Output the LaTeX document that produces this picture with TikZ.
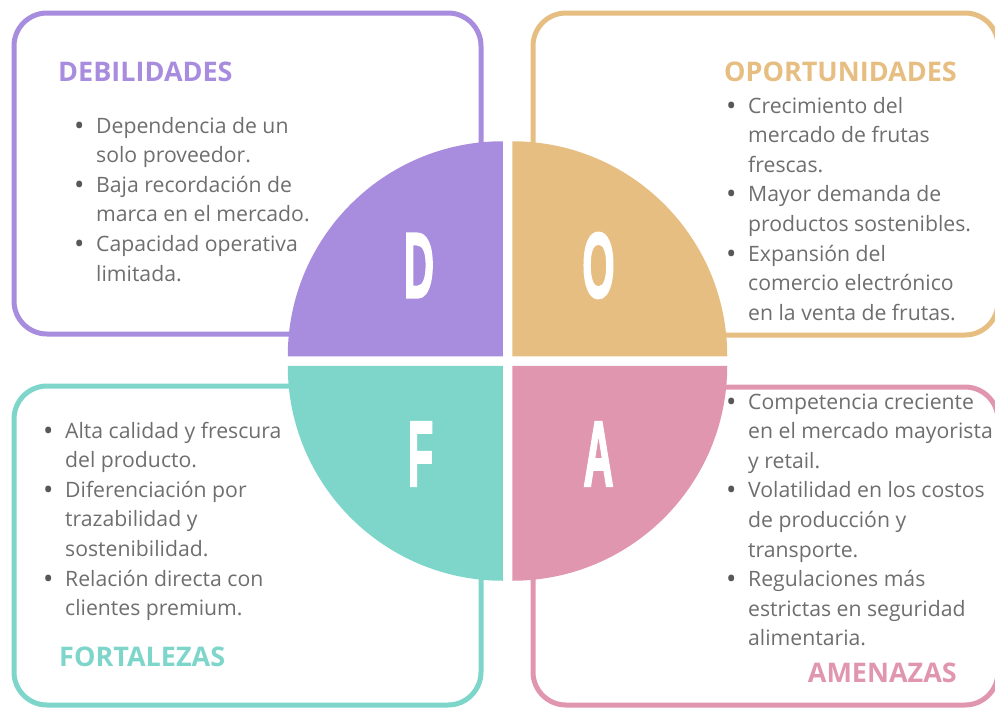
\documentclass[tikz,border=0pt]{standalone}
\usepackage{fontspec}
\setmainfont{Open Sans}
\newfontfamily\letrafont{Liberation Sans}[FakeBold=3]
\usepackage{xcolor}
\usetikzlibrary{positioning}

\definecolor{morado}{HTML}{A88CDE}
\definecolor{naranja}{HTML}{E7BE82}
\definecolor{turquesa}{HTML}{7ED6CB}
\definecolor{rosa}{HTML}{E096AF}
\definecolor{gris}{HTML}{6E6E6E}

\newcommand{\letra}[1]{\scalebox{0.45}[1]{#1}}
\newcommand{\vin}{\textcolor{gris!80!black}{\raisebox{-0.1em}{\scalebox{1.3}{\textbullet}}}}

\begin{document}
\begin{tikzpicture}[x=1pt,y=-1pt]
          \useasboundingbox (0,0) rectangle (995,707);

          \tikzstyle{caja}=[line width=5pt, rounded corners=33pt]
          \tikzstyle{titulo}=[font=\fontsize{27}{30}\selectfont\bfseries, inner sep=0pt]
          \tikzstyle{lista}=[font=\fontsize{21.2}{29.6}\selectfont, text=gris, inner sep=0pt, anchor=base west]
          \tikzstyle{letra}=[text=white, font=\letrafont\bfseries\fontsize{92}{92}\selectfont, inner sep=0pt]

          % cajas de los cuatro cuadrantes
          \draw[caja, draw=morado] (14,13) rectangle (481,334);
          \draw[caja, draw=naranja] (533,13) rectangle (998,335);
          \draw[caja, draw=turquesa] (14,386) rectangle (481,705);
          \draw[caja, draw=rosa] (533,387) rectangle (998,705);

          % circulo partido en cuartos
          \fill[morado] (502.75,356.25) -- ++(-215,0) arc[start angle=180, end angle=270, radius=215] -- cycle;
          \fill[naranja] (512.25,356.25) -- ++(0,-215) arc[start angle=270, end angle=360, radius=215] -- cycle;
          \fill[turquesa] (502.75,365.75) -- ++(-215,0) arc[start angle=180, end angle=90, radius=215] -- cycle;
          \fill[rosa] (512.25,365.75) -- ++(215,0) arc[start angle=0, end angle=90, radius=215] -- cycle;

          \node[letra] (LD) at (419,265.5) {\letra{D}};
          \node[letra] (LO) at (598.5,265.5) {\letra{O}};
          \node[letra] (LF) at (420.5,454) {\letra{F}};
          \node[letra] (LA) at (598.5,454) {\letra{A}};

          % titulos
          \node[titulo, text=morado, anchor=base west] (TD) at (58,81) {DEBILIDADES};
          \node[titulo, text=naranja, anchor=base east] (TO) at (957,81) {OPORTUNIDADES};
          \node[titulo, text=turquesa, anchor=base west] (TF) at (59,666) {FORTALEZAS};
          \node[titulo, text=rosa, anchor=base east] (TA) at (957,682) {AMENAZAS};

          % listas
          \node[lista] (BD) at (74,133) {\begin{tabular}[t]{@{}p{22pt}@{}l@{}}
            \vin & Dependencia de un\\
                 & solo proveedor.\\
            \vin & Baja recordación de\\
                 & marca en el mercado.\\
            \vin & Capacidad operativa\\
                 & limitada.
          \end{tabular}};

          \node[lista] (BO) at (726,113) {\begin{tabular}[t]{@{}p{22pt}@{}l@{}}
            \vin & Crecimiento del\\
                 & mercado de frutas\\
                 & frescas.\\
            \vin & Mayor demanda de\\
                 & productos sostenibles.\\
            \vin & Expansión del\\
                 & comercio electrónico\\
                 & en la venta de frutas.
          \end{tabular}};

          \node[lista] (BF) at (43,438) {\begin{tabular}[t]{@{}p{22pt}@{}l@{}}
            \vin & Alta calidad y frescura\\
                 & del producto.\\
            \vin & Diferenciación por\\
                 & trazabilidad y\\
                 & sostenibilidad.\\
            \vin & Relación directa con\\
                 & clientes premium.
          \end{tabular}};

          \node[lista] (BA) at (726,409) {\begin{tabular}[t]{@{}p{22pt}@{}l@{}}
            \vin & Competencia creciente\\
                 & en el mercado mayorista\\
                 & y retail.\\
            \vin & Volatilidad en los costos\\
                 & de producción y\\
                 & transporte.\\
            \vin & Regulaciones más\\
                 & estrictas en seguridad\\
                 & alimentaria.
          \end{tabular}};

\end{tikzpicture}
\end{document}
